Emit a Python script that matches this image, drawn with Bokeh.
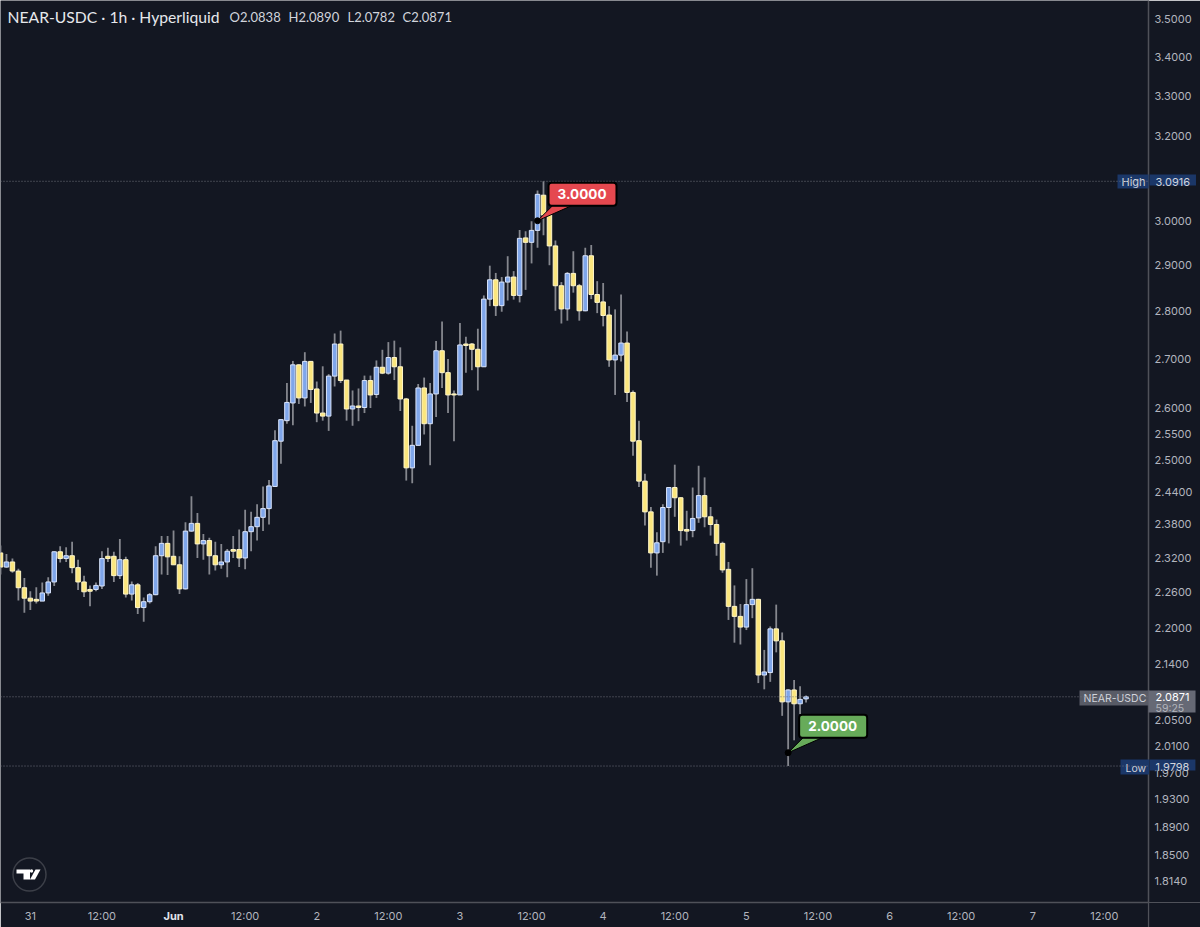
from math import exp
from bokeh.plotting import figure
from bokeh.models import (Label, Span, FixedTicker, NumeralTickFormatter, Range1d)
from bokeh.embed import file_html
from bokeh.resources import INLINE

opens = [2.329,2.304,2.313,2.297,2.268,2.250,2.248,2.245,2.259,2.278,
 2.331,2.319,2.324,2.303,2.278,2.265,2.265,2.271,2.323,2.323,
 2.289,2.317,2.257,2.273,2.234,2.244,2.256,2.324,2.346,2.323,
 2.308,2.266,2.368,2.382,2.345,2.351,2.324,2.308,2.313,2.335,
 2.335,2.320,2.367,2.376,2.393,2.409,2.450,2.536,2.576,2.611,
 2.688,2.621,2.695,2.639,2.591,2.585,2.665,2.731,2.657,2.599,
 2.605,2.602,2.656,2.628,2.683,2.671,2.703,2.684,2.619,2.485,
 2.528,2.641,2.570,2.629,2.717,2.672,2.629,2.627,2.731,2.731,
 2.720,2.684,2.826,2.868,2.812,2.863,2.874,2.834,2.961,2.951,
 2.978,3.059,3.013,2.943,2.855,2.805,2.882,2.855,2.801,2.921,
 2.836,2.820,2.792,2.698,2.708,2.733,2.632,2.537,2.460,2.403,
 2.329,2.349,2.411,2.448,2.429,2.371,2.369,2.392,2.433,2.394,
 2.380,2.346,2.300,2.236,2.219,2.201,2.239,2.248,2.122,2.126,
 2.198,2.178,2.079,2.098,2.076,2.0838]
highs = [2.342,2.327,2.319,2.301,2.285,2.262,2.269,2.277,2.286,2.332,
 2.341,2.339,2.349,2.317,2.289,2.272,2.277,2.332,2.338,2.331,
 2.354,2.322,2.279,2.276,2.251,2.259,2.341,2.359,2.359,2.369,
 2.323,2.384,2.432,2.401,2.363,2.356,2.349,2.345,2.336,2.359,
 2.371,2.407,2.403,2.417,2.450,2.462,2.557,2.579,2.651,2.696,
 2.689,2.714,2.696,2.654,2.685,2.669,2.753,2.759,2.657,2.636,
 2.640,2.666,2.666,2.697,2.719,2.735,2.738,2.724,2.621,2.566,
 2.649,2.662,2.651,2.737,2.778,2.700,2.636,2.775,2.746,2.733,
 2.763,2.834,2.899,2.883,2.874,2.920,2.887,2.979,2.976,2.999,
 3.070,3.0916,3.016,2.955,2.863,2.885,2.931,2.859,2.939,2.945,
 2.865,2.861,2.811,2.804,2.836,2.757,2.636,2.576,2.474,2.412,
 2.366,2.417,2.448,2.491,2.430,2.405,2.448,2.489,2.467,2.412,
 2.389,2.349,2.313,2.272,2.240,2.283,2.302,2.249,2.163,2.202,
 2.239,2.192,2.099,2.114,2.104,2.0890]
lows = [2.291,2.303,2.294,2.246,2.225,2.230,2.241,2.245,2.254,2.271,
 2.312,2.313,2.293,2.264,2.252,2.236,2.262,2.266,2.313,2.278,
 2.283,2.251,2.246,2.223,2.210,2.241,2.255,2.291,2.290,2.308,
 2.257,2.265,2.367,2.320,2.317,2.291,2.298,2.301,2.286,2.320,
 2.304,2.300,2.332,2.351,2.368,2.380,2.450,2.493,2.570,2.567,
 2.609,2.604,2.611,2.573,2.576,2.556,2.644,2.651,2.576,2.566,
 2.575,2.591,2.601,2.621,2.669,2.668,2.657,2.595,2.461,2.456,
 2.528,2.549,2.490,2.583,2.641,2.591,2.536,2.627,2.672,2.677,
 2.636,2.684,2.811,2.790,2.799,2.823,2.825,2.819,2.846,2.904,
 2.939,2.967,2.900,2.801,2.774,2.780,2.840,2.780,2.800,2.826,
 2.796,2.768,2.684,2.627,2.695,2.613,2.508,2.449,2.378,2.303,
 2.289,2.329,2.346,2.394,2.342,2.351,2.357,2.383,2.375,2.360,
 2.324,2.294,2.213,2.175,2.172,2.196,2.216,2.109,2.099,2.111,
 2.159,2.057,1.9798,2.019,2.060,2.0782]
closes = [2.304,2.313,2.297,2.268,2.250,2.245,2.245,2.259,2.278,2.331,
 2.319,2.324,2.303,2.278,2.261,2.262,2.272,2.319,2.319,2.289,
 2.317,2.257,2.273,2.234,2.244,2.256,2.324,2.346,2.322,2.308,
 2.266,2.368,2.382,2.345,2.351,2.324,2.308,2.313,2.332,2.332,
 2.320,2.367,2.376,2.393,2.409,2.451,2.537,2.578,2.612,2.688,
 2.621,2.695,2.638,2.591,2.585,2.665,2.731,2.656,2.599,2.605,
 2.602,2.656,2.627,2.683,2.671,2.703,2.684,2.619,2.485,2.528,
 2.641,2.570,2.629,2.717,2.672,2.627,2.627,2.729,2.728,2.720,
 2.684,2.826,2.868,2.812,2.863,2.874,2.834,2.960,2.951,2.978,
 3.061,3.013,2.943,2.855,2.805,2.882,2.855,2.801,2.921,2.836,
 2.819,2.791,2.698,2.708,2.733,2.632,2.536,2.460,2.403,2.329,
 2.347,2.411,2.448,2.429,2.369,2.368,2.391,2.433,2.394,2.380,
 2.346,2.299,2.236,2.219,2.201,2.239,2.248,2.122,2.127,2.198,
 2.178,2.079,2.098,2.076,2.083,2.0871]
candle_index = list(range(len(opens)))

price_ticks = [3.5,3.4,3.3,3.2,3.0,2.9,2.8,2.7,2.6,2.55,2.5,2.44,2.38,2.32,2.26,2.2,
               2.14,2.05,2.01,1.97,1.93,1.89,1.85,1.814]
time_ticks = [5,17,41,53,65,77,89,101,113,125,137,149,161,173,185]
time_labels = ["31","12:00","12:00","2","12:00","3","12:00","4","12:00","5","12:00",
               "6","12:00","7","12:00"]
month_tick, month_label = 29, "Jun"
high_price, low_price, last_price = 3.0916, 1.9798, 2.0871
note_hi, note_lo = (90, 3.0), (132, 2.0)

BG, UP, DOWN = "#131722", "#7fa6ea", "#fbe67e"
UP_EDGE, DOWN_EDGE, WICK = "#d9e4fb", "#fff6c9", "#85878e"
NAVY, GREY_A, GREY_B = "#1b3768", "#585b66", "#666975"
AXIS_TXT = "#b2b5be"
RULE = "#4f5159"

PX, PRICE0 = 5.967, 3.5
def xd(px):                      # page px -> candle axis
    return px / PX
def yd(py):                      # page px -> price axis
    return PRICE0 * exp(-(py - 18) / 1312)

p = figure(width=1200, height=927, frame_width=1148, frame_height=902,
           output_backend="svg", toolbar_location=None, y_axis_type="log",
           y_axis_location="right", x_range=Range1d(xd(0), xd(1148)),
           y_range=Range1d(yd(902), yd(0)),
           background_fill_color=BG, border_fill_color=BG,
           min_border_left=0, min_border_right=52, min_border_top=0, min_border_bottom=25)
p.outline_line_color = None
p.grid.visible = False

yax, xax = p.yaxis[0], p.xaxis[0]
yax.ticker = FixedTicker(ticks=price_ticks, minor_ticks=[])
yax.formatter = NumeralTickFormatter(format="0.0000")
xax.ticker = FixedTicker(ticks=time_ticks + [month_tick], minor_ticks=[])
xax.major_label_overrides = {**dict(zip(time_ticks, time_labels)), month_tick: ""}
for a in (yax, xax):
    a.axis_line_color = RULE
    a.axis_line_width = 1.5
    a.major_tick_line_color = None
    a.minor_tick_line_color = None
    a.major_tick_out = 0
    a.major_label_text_color = AXIS_TXT
    a.major_label_text_font = "Inter"
    a.major_label_text_font_size = "11px"
    a.major_label_standoff = 6

for level in (high_price, low_price, last_price):
    p.add_layout(Span(location=level, dimension="width", line_color="#6f727c",
                      line_width=1, line_dash="1 2"))

up = [i for i in candle_index if closes[i] >= opens[i]]
dn = [i for i in candle_index if closes[i] < opens[i]]
p.segment(candle_index, highs, candle_index, lows, line_color=WICK, line_width=1.8)
for idx, fill, edge in ((up, UP, UP_EDGE), (dn, DOWN, DOWN_EDGE)):
    p.vbar([i for i in idx], width=0.75,
           top=[max(opens[i], closes[i]) for i in idx],
           bottom=[min(opens[i], closes[i]) for i in idx],
           fill_color=fill, line_color=edge, line_width=1)

def shift(y, dpx):
    return y * exp(-dpx / 1312)

def note(anchor, text, colour):
    ax, ay = anchor
    p.patch([ax, ax + 15 / PX, ax + 34 / PX],
            [ay, shift(ay, -15), shift(ay, -15)],
            fill_color=colour, line_color="#000000", line_width=1)
    p.scatter([ax], [ay], size=6, fill_color="#000000", line_color="#000000")
    p.add_layout(Label(x=ax, y=ay, x_offset=11, y_offset=15, text=text,
                       text_color="#ffffff", text_font="Inter", text_font_style="bold",
                       text_font_size="13.5px", text_align="left", text_baseline="bottom",
                       padding=(9, 10, 6, 7), border_radius=3,
                       background_fill_color=colour, border_line_color="#000000",
                       border_line_width=2))

note(note_hi, "3.0000", "#e5484f")
note(note_lo, "2.0000", "#67ab5a")

def tag(x, y, s, pad, fill, size="11px", colour="#d1d4dc"):
    # pad is (left, right, top, bottom)
    p.add_layout(Label(x=x, y=y, x_units="canvas", y_units="canvas", text=s,
                       text_color=colour, text_font_size=size, text_font="Inter",
                       text_align="left", text_baseline="top",
                       padding=pad, background_fill_color=fill), "right")

def txt(x, y, s, size="11px", colour="#d1d4dc", font="Inter", side="right"):
    p.add_layout(Label(x=x, y=y, x_units="canvas", y_units="canvas", text=s,
                       text_color=colour, text_font_size=size, text_font=font,
                       text_align="left", text_baseline="middle"), side)

# axis rules that run on to the page edge
tag(1147.4, 902, " ", (0, 1, 12, 13), RULE, "1px")
tag(1148, 901.4, " ", (26, 26, 0, 0), RULE, "1px")

tag(1117, 174, "High", (4, 3, 0, 0), NAVY)
tag(1149, 174, "3.0916", (6, 6, 3, 0), NAVY)
tag(1120, 759, "Low", (5, 3, 2, 0), NAVY, "10.5px")
tag(1149, 759, "1.9798", (6, 6, 3, 0), NAVY)
tag(1079, 690, "NEAR-USDC", (4, 3, 1, 1), GREY_A, "10.5px")
tag(1148, 690, "2.0871", (7, 6, 2, 12), GREY_B, colour="#ffffff")
txt(1155, 708, "59:25", "10.5px", colour="#b4b6bd")

txt(7, 16, "NEAR-USDC · 1h · Hyperliquid", "15.7px", "#e6e8ec", font="Lato", side="center")
txt(229, 16, "O2.0838", "13px", "#d1d4dc", font="Lato", side="center")
txt(288, 16, "H2.0890", "13px", "#d1d4dc", font="Lato", side="center")
txt(347, 16, "L2.0782", "13px", "#d1d4dc", font="Lato", side="center")
txt(402, 16, "C2.0871", "13px", "#d1d4dc", font="Lato", side="center")
p.add_layout(Label(x=month_tick, y=915, y_units="canvas", text=month_label,
                   text_color="#e0e3eb", text_font="Inter", text_font_style="bold",
                   text_font_size="11px", text_align="center", text_baseline="middle"), "below")

# logo
p.scatter([xd(29)], [yd(874)], size=33, fill_color=None, line_color="#3c3f48", line_width=1.5)
logo_polys = [
    [(16, 869), (29.5, 869), (29.5, 879), (23, 879), (23, 873), (16, 873)],
    [(35, 869), (40, 869), (34.5, 879), (29.5, 879)],
]
p.patches([[xd(a) for a, _ in g] for g in logo_polys], [[yd(b) for _, b in g] for g in logo_polys],
          fill_color="#ffffff", line_color=None)
p.scatter([xd(31)], [yd(870.5)], size=3.4, fill_color="#ffffff", line_color=None)

open("out.html", "w").write(file_html(p, INLINE, "NEAR-USDC"))
